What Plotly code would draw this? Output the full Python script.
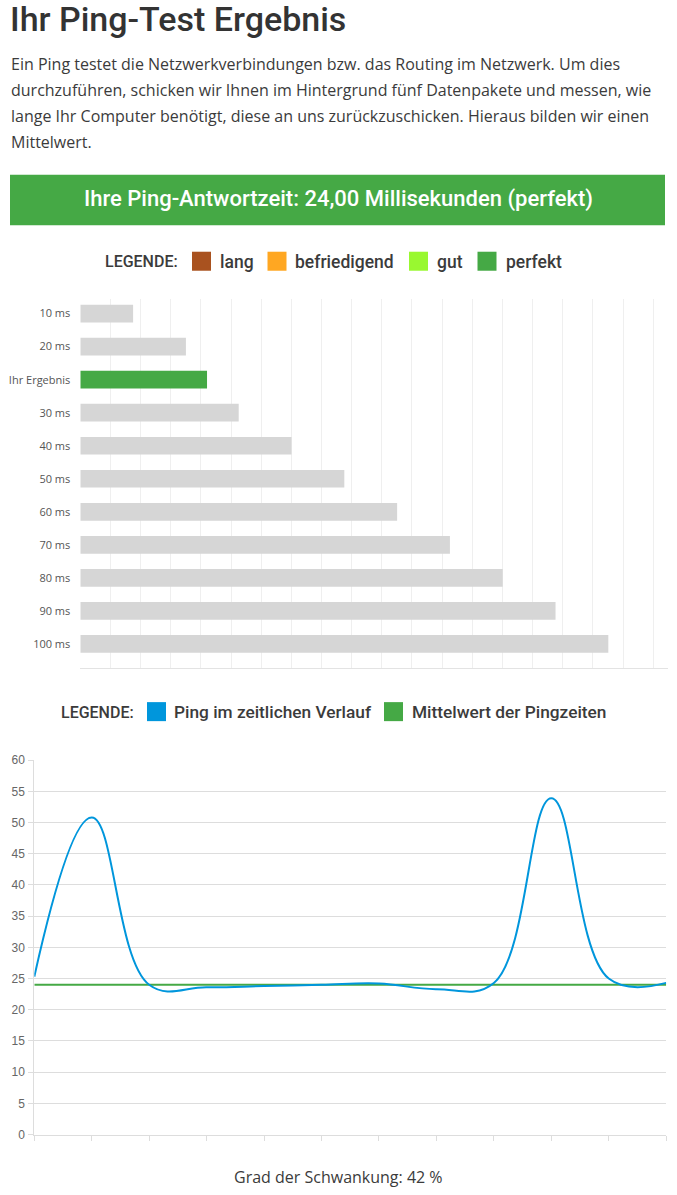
import plotly.graph_objects as go

W, H = 677, 1195

# --- data ---
title_text = 'Ihr Ping-Test Ergebnis'
intro_lines = [
    'Ein Ping testet die Netzwerkverbindungen bzw. das Routing im Netzwerk. Um dies',
    'durchzuführen, schicken wir Ihnen im Hintergrund fünf Datenpakete und messen, wie',
    'lange Ihr Computer benötigt, diese an uns zurückzuschicken. Hieraus bilden wir einen',
    'Mittelwert.',
]
banner_text = 'Ihre Ping-Antwortzeit: 24,00 Millisekunden (perfekt)'

legend1_labels = ['lang', 'befriedigend', 'gut', 'perfekt']
legend1_colors = ['#a9521f', '#ffa722', '#99f830', '#45a945']

bar_labels = ['10 ms', '20 ms', 'Ihr Ergebnis', '30 ms', '40 ms', '50 ms',
              '60 ms', '70 ms', '80 ms', '90 ms', '100 ms']
bar_values = [10, 20, 24, 30, 40, 50, 60, 70, 80, 90, 100]
bar_colors = ['#d6d6d6', '#d6d6d6', '#45a945', '#d6d6d6', '#d6d6d6', '#d6d6d6',
              '#d6d6d6', '#d6d6d6', '#d6d6d6', '#d6d6d6', '#d6d6d6']

legend2_labels = ['Ping im zeitlichen Verlauf', 'Mittelwert der Pingzeiten']
legend2_colors = ['#0096dc', '#45a945']

ping_values = [25.3, 50.8, 24.0, 23.6, 23.8, 24.0, 24.2, 23.3, 24.3, 53.9, 25.0, 24.3]
mean_value = 24.0

footer_text = 'Grad der Schwankung: 42 %'

COND = 'Roboto, sans-serif'
BODY = 'Open Sans, sans-serif'
TXT = '#3b3b3b'

# the page ends up drawn ~7.5px lower and squeezed to 1180px tall,
# so vertical positions are given in screen pixels and mapped back here
Y_OFF, Y_SCALE = 7.5, 0.9874


def fx(x):
    return x / W


def fy(y):
    return 1 - ((y - Y_OFF) / Y_SCALE) / H


fig = go.Figure()

fig.add_trace(go.Bar(x=bar_values, y=bar_labels, orientation='h',
                     marker=dict(color=bar_colors, line=dict(width=0)),
                     width=0.536, xaxis='x', yaxis='y', hoverinfo='x+y'))

xs = list(range(len(ping_values)))
fig.add_trace(go.Scatter(x=xs, y=[mean_value] * len(xs), mode='lines',
                         line=dict(color=legend2_colors[1], width=2),
                         xaxis='x2', yaxis='y2'))
fig.add_trace(go.Scatter(x=xs, y=ping_values, mode='lines',
                         line=dict(color=legend2_colors[0], width=2, shape='spline', smoothing=1.15),
                         xaxis='x2', yaxis='y2'))

shapes = []
annotations = []

# heading and intro
annotations.append(dict(text=title_text, x=fx(8), y=fy(41), xanchor='left', yanchor='bottom',
                        font=dict(family=COND, size=34, weight=500, color='#333333')))
for i, line in enumerate(intro_lines):
    annotations.append(dict(text=line, x=fx(9), y=fy(64 + 26 * i), xanchor='left', yanchor='middle',
                            font=dict(family=BODY, size=16, color=TXT)))

# banner
shapes.append(dict(type='rect', xref='paper', yref='paper', x0=fx(10), x1=fx(665),
                   y0=fy(225.5), y1=fy(175), fillcolor='#45a945', line=dict(width=0), layer='below'))
annotations.append(dict(text=banner_text, x=fx(338), y=fy(199), xanchor='center', yanchor='middle',
                        font=dict(family=COND, size=22, weight=500, color='white')))

# legend 1
annotations.append(dict(text='LEGENDE:', x=fx(141.5), y=fy(262), xanchor='center', yanchor='middle',
                        font=dict(family=COND, size=16, weight=500, color=TXT)))
sw1 = [192, 267.5, 409, 477.5]
tx1 = [236.8, 344.8, 450, 534]
for lab, col, sx, tx in zip(legend1_labels, legend1_colors, sw1, tx1):
    shapes.append(dict(type='rect', xref='paper', yref='paper', x0=fx(sx), x1=fx(sx + 19),
                       y0=fy(271), y1=fy(252), fillcolor=col, line=dict(width=0)))
    annotations.append(dict(text=lab, x=fx(tx), y=fy(262), xanchor='center', yanchor='middle',
                            font=dict(family=COND, size=17.5, weight=500, color=TXT)))

# legend 2
annotations.append(dict(text='LEGENDE:', x=fx(97), y=fy(712), xanchor='center', yanchor='middle',
                        font=dict(family=COND, size=16, weight=500, color=TXT)))
sw2 = [147, 384]
tx2 = [272.5, 509.3]
for lab, col, sx, tx in zip(legend2_labels, legend2_colors, sw2, tx2):
    shapes.append(dict(type='rect', xref='paper', yref='paper', x0=fx(sx), x1=fx(sx + 19),
                       y0=fy(721), y1=fy(702), fillcolor=col, line=dict(width=0)))
    annotations.append(dict(text=lab, x=fx(tx), y=fy(712), xanchor='center', yanchor='middle',
                            font=dict(family=COND, size=17.3, weight=500, color=TXT)))

# footer
annotations.append(dict(text=footer_text, x=fx(338), y=fy(1176), xanchor='center', yanchor='middle',
                        font=dict(family=BODY, size=16, color=TXT)))

for a in annotations:
    a.update(xref='paper', yref='paper', showarrow=False)

fig.update_layout(
    width=W, height=H,
    margin=dict(l=0, r=0, t=0, b=0),
    paper_bgcolor='white', plot_bgcolor='white',
    showlegend=False,
    shapes=shapes,
    annotations=annotations,
    xaxis=dict(domain=[fx(80.3), fx(668)], range=[0, 111.3], tick0=0, dtick=5.71,
               showgrid=True, gridcolor='#efefef', gridwidth=1, zeroline=False,
               showticklabels=False, showline=True, linecolor='#e3e3e3', linewidth=1,
               anchor='y', fixedrange=True),
    yaxis=dict(domain=[fy(668.3), fy(299.3)], range=[10.74, -0.44], type='category',
               showgrid=False, zeroline=False, ticks='', ticklabelstandoff=9,
               tickfont=dict(family=BODY, size=11, color='#555555'),
               anchor='x', fixedrange=True),
    xaxis2=dict(domain=[fx(34.3), fx(666.2)], range=[0, 11], tick0=0, dtick=1,
                showgrid=False, zeroline=False, showticklabels=False,
                ticks='outside', ticklen=5, tickcolor='#dddddd',
                showline=True, linecolor='#dddddd', linewidth=1,
                anchor='y2', fixedrange=True),
    yaxis2=dict(domain=[fy(1134), fy(760)], range=[0, 60], tick0=0, dtick=5,
                showgrid=True, gridcolor='#dddddd', gridwidth=1, zeroline=False,
                ticks='outside', ticklen=5, tickcolor='#dddddd',
                showline=True, linecolor='#dddddd', linewidth=1,
                tickfont=dict(family='Liberation Sans, Arial, sans-serif', size=12, color='#666666'),
                ticklabelstandoff=1,
                anchor='x2', fixedrange=True),
)

fig.write_html('out.html', config={'displayModeBar': False},
               post_script="document.body.style.margin='0';")
